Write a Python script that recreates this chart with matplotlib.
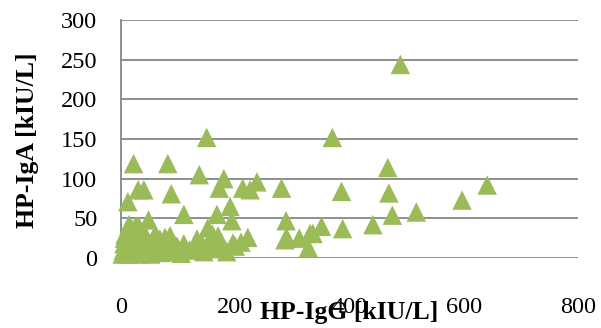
import matplotlib
matplotlib.use("Agg")
import matplotlib.pyplot as plt

# HP-IgG [kIU/L] (x) and HP-IgA [kIU/L] (y)
igg = [489, 150, 370, 22, 82, 467, 137, 180, 238, 641, 30, 40, 88, 172, 213,
       226, 281, 386, 469, 597, 12, 191, 517, 110, 168, 475, 289, 194, 48, 441,
       351, 388, 152, 27, 14, 19, 336, 331, 312, 290, 287, 222, 196, 133, 84,
       98, 170, 328, 7, 60, 77, 86, 68, 25, 31,
       2, 4, 5, 6, 8, 10, 12, 13, 15, 17, 18, 20, 22, 24, 25, 28, 30, 32, 34,
       35, 38, 40, 42, 45, 48, 50, 52, 55, 58, 62, 65, 70, 75, 80, 90, 95,
       100, 105, 110, 120, 130, 140, 145, 155, 160, 165, 175, 185, 200, 210]
iga = [244, 152, 152, 119, 119, 114, 105, 100, 96, 92, 86, 86, 81, 88, 88,
       86, 88, 84, 82, 73, 71, 65, 58, 55, 55, 54, 47, 47, 48, 42,
       40, 37, 38, 40, 42, 37, 31, 31, 25, 26, 23, 26, 19, 24, 25,
       15, 28, 13, 30, 30, 26, 28, 24, 39, 40,
       5, 10, 18, 25, 8, 15, 5, 22, 12, 28, 8, 18, 6, 14, 30, 8, 12, 18, 5,
       25, 10, 16, 30, 8, 20, 12, 5, 18, 26, 10, 15, 7, 12, 18, 8, 15,
       12, 6, 18, 10, 15, 20, 8, 12, 30, 18, 12, 8, 15, 20]

x_ticks = [0, 200, 400, 600, 800]
y_ticks = [0, 50, 100, 150, 200, 250, 300]

serif = ["Liberation Serif", "DejaVu Serif"]
grid_c = "#868686"
mark_c = "#9BBB59"

fig = plt.figure(figsize=(6.01, 3.28), dpi=100)
ax = fig.add_axes([121 / 601, 1 - 258 / 328, (578 - 121) / 601, (258 - 20) / 328])

ax.set_xlim(0, 800)
ax.set_ylim(0, 300)
ax.set_xticks(x_ticks)
ax.set_yticks(y_ticks)
ax.set_xticklabels([str(v) for v in x_ticks], family=serif, fontsize=17.5)
ax.set_yticklabels([str(v) for v in y_ticks], family=serif, fontsize=17.5)
ax.tick_params(axis="both", length=0)
ax.tick_params(axis="x", pad=28)
ax.tick_params(axis="y", pad=17)

ax.yaxis.grid(True, color=grid_c, linewidth=1.3)
ax.set_axisbelow(True)
for s in ["top", "right", "bottom"]:
    ax.spines[s].set_visible(False)
ax.spines["left"].set_color(grid_c)
ax.spines["left"].set_linewidth(1.3)

ax.scatter(igg, iga, marker="^", s=14 ** 2, color=mark_c, edgecolors="none",
           clip_on=False, zorder=3)

fig.text(349.5 / 601, 1 - 312 / 328, "HP-IgG [kIU/L]", family=serif,
         fontweight="bold", fontsize=18.5, ha="center", va="center")
fig.text(28 / 601, 1 - 140 / 328, "HP-IgA [kIU/L]", family=serif,
         fontweight="bold", fontsize=18.5, ha="center", va="center",
         rotation=90)

fig.savefig("out.png", dpi=100)
